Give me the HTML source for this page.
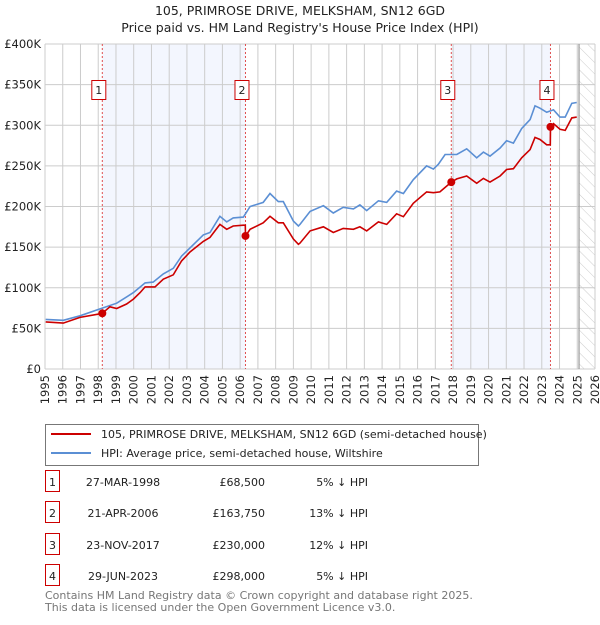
<!DOCTYPE html>
<html><head><meta charset="utf-8"><style>
body{margin:0;background:#fff;font-family:"Liberation Sans","DejaVu Sans",sans-serif;}
svg text{font-family:"DejaVu Sans","Liberation Sans",sans-serif;}
</style></head><body>
<svg id="c" width="600" height="620" viewBox="0 0 600 620" xmlns="http://www.w3.org/2000/svg">
<defs><pattern id="hatch" width="8" height="8" patternUnits="userSpaceOnUse" patternTransform="rotate(-45)"><line x1="0" y1="0" x2="0" y2="8" stroke="#ccc" stroke-width="1"/></pattern></defs>
<text x="300" y="15" text-anchor="middle" font-size="12.5" fill="#222">105, PRIMROSE DRIVE, MELKSHAM, SN12 6GD</text>
<text x="300" y="32" text-anchor="middle" font-size="12.5" fill="#222">Price paid vs. HM Land Registry's House Price Index (HPI)</text>
<g id="plot"></g>
<g>
<rect x="45.5" y="424.5" width="433" height="41" fill="#fff" stroke="#777"/>
<line x1="51" y1="434" x2="91" y2="434" stroke="#cc0000" stroke-width="2"/>
<text x="101" y="438" font-size="11" fill="#222">105, PRIMROSE DRIVE, MELKSHAM, SN12 6GD (semi-detached house)</text>
<line x1="51" y1="453" x2="91" y2="453" stroke="#5b8fd4" stroke-width="2"/>
<text x="101" y="457" font-size="11" fill="#222">HPI: Average price, semi-detached house, Wiltshire</text>
</g>
<g id="table" font-size="11" fill="#222"></g>
<text x="45" y="599" font-size="11" fill="#777">Contains HM Land Registry data © Crown copyright and database right 2025.</text>
<text x="45" y="611" font-size="11" fill="#777">This data is licensed under the Open Government Licence v3.0.</text>
</svg>
<script>
const hpiYears=[1995.04,1996.03,1996.97,1998.1,1999.04,1999.98,2000.64,2001.1,2001.67,2002.23,2002.7,2003.17,2003.92,2004.3,2004.86,2005.24,2005.61,2006.18,2006.56,2007.3,2007.68,2008.15,2008.43,2009.0,2009.28,2009.37,2009.94,2010.69,2011.25,2011.81,2012.38,2012.75,2013.13,2013.79,2014.26,2014.82,2015.2,2015.76,2016.51,2016.89,2017.17,2017.55,2018.21,2018.77,2019.33,2019.71,2020.08,2020.65,2021.02,2021.4,2021.87,2022.34,2022.62,2022.9,2023.28,2023.66,2024.03,2024.32,2024.69,2024.97];
const hpiValues=[61,60,65.5,74,81,94,106,107,117,124,139,149,165,168,188,181,186,187,200,205,216,206,206,182,176,178,194,201,192,199,197,202,195,207,205,219,216,233,250,246,252,264,264,271,260,267,262,272,281,278,296,307,324,321,316,319,310,310,327,328];
const ppYears=[1995.04,1996.03,1996.97,1998.1,1998.23,1998.66,1999.04,1999.6,1999.98,2000.36,2000.64,2001.2,2001.67,2002.23,2002.7,2003.17,2003.92,2004.3,2004.86,2005.24,2005.61,2006.18,2006.29,2006.3,2006.56,2007.3,2007.68,2008.15,2008.43,2009.0,2009.28,2009.37,2009.94,2010.69,2011.25,2011.81,2012.38,2012.75,2013.13,2013.79,2014.26,2014.82,2015.2,2015.76,2016.51,2016.89,2017.26,2017.9,2018.21,2018.77,2019.33,2019.71,2020.08,2020.65,2021.02,2021.4,2021.87,2022.34,2022.62,2022.9,2023.28,2023.48,2023.49,2023.66,2024.03,2024.32,2024.69,2024.97];
const ppValues=[58,56.5,63.5,68,68.5,76.6,74.5,80,86,94,101,101,110.5,116,133,144,157,162,178,172,176,177,177,163.75,172,180,188,180,180,160,153.5,155,170,175,168,173,172,175,170,181,178,191,187.5,204,218,217,218,230,234,237.5,228.5,234.6,230,237.5,245.6,246.5,260,270,285,282.5,276,276,298,302,295,293.6,309,310];
const saleLabels=["1","2","3","4"];
const saleYears=[1998.23,2006.30,2017.90,2023.49];
const saleValues=[68.5,163.75,230,298];
const saleDates=["27-MAR-1998","21-APR-2006","23-NOV-2017","29-JUN-2023"];
const salePrices=["£68,500","£163,750","£230,000","£298,000"];
const saleDiffs=["5% ↓ HPI","13% ↓ HPI","12% ↓ HPI","5% ↓ HPI"];
const yTicks=[0,50,100,150,200,250,300,350,400];
const yTickLabels=["£0","£50K","£100K","£150K","£200K","£250K","£300K","£350K","£400K"];
const xTicks=[1995,1996,1997,1998,1999,2000,2001,2002,2003,2004,2005,2006,2007,2008,2009,2010,2011,2012,2013,2014,2015,2016,2017,2018,2019,2020,2021,2022,2023,2024,2025,2026];
const dataEnd=2025.1;

const L=45,R=595,T=44,B=369;
const x=v=>L+(v-1995)/(2026-1995)*(R-L);
const y=v=>B-v/400*(B-T);
const NS="http://www.w3.org/2000/svg";
const plot=document.getElementById('plot');
function mk(tag,attrs,parent){const e=document.createElementNS(NS,tag);for(const k in attrs)e.setAttribute(k,attrs[k]);(parent||plot).appendChild(e);return e;}
for(let i=0;i<saleYears.length;i+=2){
 const r=mk('rect',{x:x(saleYears[i]),y:T,width:x(saleYears[i+1])-x(saleYears[i]),height:B-T,fill:'#f3f6fe'});
 
 
}
const h=mk('rect',{x:x(dataEnd),y:T,width:R-x(dataEnd),height:B-T,fill:'url(#hatch)'});


xTicks.forEach(t=>{
 const g=mk('line',{x1:x(t),x2:x(t),y1:T,y2:B,stroke:'#cccccc','stroke-width':1});
 
 
 const tx=mk('text',{x:0,y:0,'font-size':11.5,fill:'#222','text-anchor':'end',transform:`translate(${x(t)+4},${B+6}) rotate(-90)`});
 tx.textContent=t;
 
 
});
yTicks.forEach((t,i)=>{
 const g=mk('line',{x1:L,x2:R,y1:y(t),y2:y(t),stroke:'#cccccc','stroke-width':1});
 
 
 const tx=mk('text',{x:L-4,y:y(t)+4,'font-size':11.5,fill:'#222','text-anchor':'end'});
 tx.textContent=yTickLabels[i];
 
 
});
const dl=mk('line',{x1:x(dataEnd),x2:x(dataEnd),y1:T,y2:B,stroke:'#999','stroke-width':1.2});


saleYears.forEach(s=>{
 const l=mk('line',{x1:x(s),x2:x(s),y1:T,y2:B,stroke:'#e05050','stroke-width':1,'stroke-dasharray':'2,2'});
 
 
});
function path(xs,vs){return xs.map((t,i)=>(i?'L':'M')+x(t).toFixed(1)+','+y(vs[i]).toFixed(1)).join('');}
const hp=mk('path',{d:path(hpiYears,hpiValues),fill:'none',stroke:'#5b8fd4','stroke-width':1.6});


const pp=mk('path',{d:path(ppYears,ppValues),fill:'none',stroke:'#cc0000','stroke-width':1.6});


saleYears.forEach((s,i)=>{
 const c=mk('circle',{cx:x(s),cy:y(saleValues[i]),r:4,fill:'#cc0000'});
 
 
 const b=mk('rect',{x:x(s)-10.5,y:80.5,width:14,height:19,fill:'#fff',stroke:'#cc0000'});
 
 
 const t=mk('text',{x:x(s)-3.5,y:94,'font-size':11,'text-anchor':'middle',fill:'#222'});
 t.textContent=saleLabels[i];
 
 
});
const tb=document.getElementById('table');
const rowsY=[482,513,545,576];
saleLabels.forEach((lab,i)=>{
 const yy=rowsY[i];
 const b=mk('rect',{x:45.5,y:yy-11.5,width:14,height:21,fill:'#fff',stroke:'#cc0000'},tb);
 
 
 const cells=[[52.5,lab,'middle','table-index'],[123,saleDates[i],'middle','table-date'],[265,salePrices[i],'end','table-price'],[368,saleDiffs[i],'end','table-hpi-diff']];
 cells.forEach(c=>{
  const t=mk('text',{x:c[0],y:yy+4,'text-anchor':c[2]},tb);
  t.textContent=c[1];
  
  
 });
});
</script>
</body></html>
